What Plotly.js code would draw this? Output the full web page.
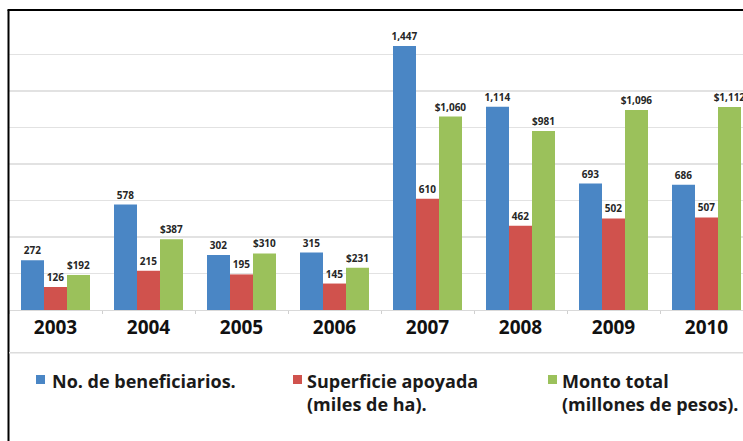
<!DOCTYPE html>
<html>
<head>
<meta charset="utf-8">
<script src="https://cdn.plot.ly/plotly-3.0.1.min.js"></script>
<style>html,body{margin:0;padding:0;background:#fff;overflow:hidden}</style>
</head>
<body>
<div id="chart" style="width:743px;height:441px"></div>
<script>
// ---- data ----
const years = ["2003","2004","2005","2006","2007","2008","2009","2010"];
const beneficiarios = [272, 578, 302, 315, 1447, 1114, 693, 686];
const superficie = [126, 215, 195, 145, 610, 462, 502, 507];
const monto = [192, 387, 310, 231, 1060, 981, 1096, 1112];
const seriesNames = ["No. de beneficiarios.", "Superficie apoyada<br>(miles de ha).", "Monto total<br>(millones de pesos)."];
const seriesColors = ["#4A86C5", "#D0524D", "#9BC15B"];
const textTemplates = ["%{y:,}", "%{y:,}", "$%{y:,}"];

// ---- layout helpers (pixel -> paper) ----
const W = 743, H = 441;
const ML = 9, MT = 18, MB = 131;
const plotW = W - ML, plotH = H - MT - MB;
const px = v => (v - ML) / plotW;
const py = v => (H - MB - v) / plotH;

const labelFont = {family: "Open Sans", size: 10, color: "#262626", weight: 700};
const seriesValues = [beneficiarios, superficie, monto];
const traces = seriesValues.map((vals, i) => ({
  type: "bar",
  x: years,
  y: vals,
  name: seriesNames[i],
  marker: {color: seriesColors[i]},
  texttemplate: textTemplates[i],
  textposition: "outside",
  outsidetextfont: labelFont,
  textfont: labelFont,
  constraintext: "none",
  cliponaxis: false,
  hoverinfo: "skip"
}));

// legend drawn as swatches + text
const legendSwatchX = [36, 293, 548];
const legendTextX = [50, 305, 560];
const shapes = [
  // frame: left and top black border
  {type: "line", xref: "paper", yref: "paper", x0: px(8.5), x1: px(8.5), y0: py(H + 2), y1: py(10), line: {color: "#000", width: 2}},
  {type: "line", xref: "paper", yref: "paper", x0: px(7.5), x1: px(W + 5), y0: py(10), y1: py(10), line: {color: "#000", width: 2}},
  // separator above legend
  {type: "line", xref: "paper", yref: "paper", x0: px(9), x1: px(W + 5), y0: py(352.7), y1: py(352.7), line: {color: "#dcdcdc", width: 1.5}}
];
const annotations = [];
seriesNames.forEach((n, i) => {
  shapes.push({type: "rect", xref: "paper", yref: "paper",
    x0: px(legendSwatchX[i]), x1: px(legendSwatchX[i] + 9),
    y0: py(384), y1: py(375), line: {width: 0}, fillcolor: seriesColors[i]});
  annotations.push({xref: "paper", yref: "paper", x: px(legendTextX[i]), y: py(367),
    xanchor: "left", yanchor: "top", align: "left", showarrow: false, text: n,
    font: {family: "Open Sans", size: 18, color: "#1a1a1a", weight: 700}});
});

const layout = {
  width: W, height: H,
  margin: {l: ML, r: 0, t: MT, b: MB, pad: 0},
  paper_bgcolor: "#fff", plot_bgcolor: "#fff",
  showlegend: false,
  barmode: "group",
  bargap: 0.258,
  bargroupgap: 0,
  xaxis: {
    type: "category",
    range: [-0.5, -0.5 + plotW / 93],
    showgrid: false,
    showline: true, linecolor: "#d9d9d9", linewidth: 1,
    ticks: "outside", tickson: "boundaries", ticklen: 3, tickcolor: "#d0d0d0",
    tickfont: {family: "Open Sans", size: 19, color: "#111", weight: 700},
    fixedrange: true
  },
  yaxis: {
    range: [0, 1600], dtick: 200,
    showgrid: true, gridcolor: "#e2e2e2", gridwidth: 1.5,
    zeroline: false, showticklabels: false, ticks: "",
    fixedrange: true
  },
  shapes: shapes,
  annotations: annotations
};

Plotly.newPlot("chart", traces, layout, {displayModeBar: false, staticPlot: true});
</script>
</body>
</html>
